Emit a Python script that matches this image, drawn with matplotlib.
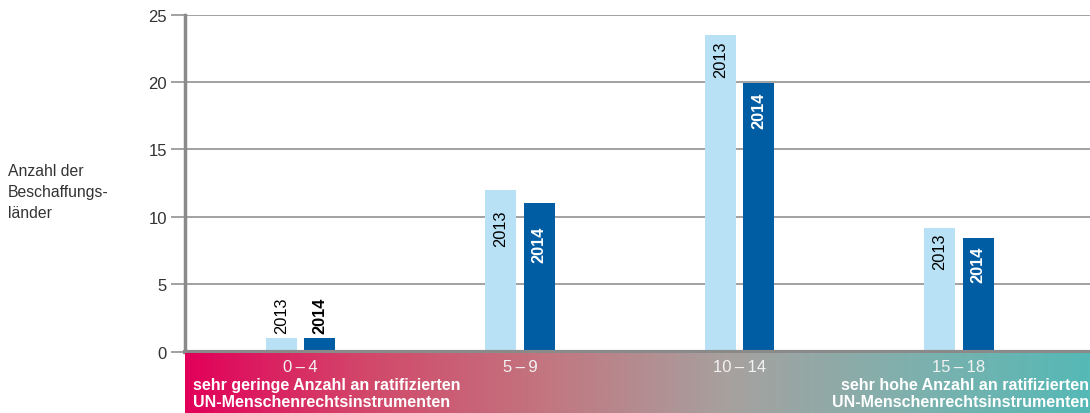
import numpy as np
import matplotlib
matplotlib.use('Agg')
import matplotlib.pyplot as plt
from matplotlib.colors import LinearSegmentedColormap

plt.rcParams['font.family'] = ['Liberation Sans', 'DejaVu Sans']

categories = ['0\u2009\u2013\u20094', '5\u2009\u2013\u20099', '10\u2009\u2013\u200914', '15\u2009\u2013\u200918']
values_2013 = [1, 12, 23.5, 9.2]
values_2014 = [1, 11, 19.9, 8.4]
series_labels = ['2013', '2014']
yticks = [0, 5, 10, 15, 20, 25]
ylabel = 'Anzahl der\nBeschaffungs-\nländer'
low_note = 'sehr geringe Anzahl an ratifizierten\nUN-Menschenrechtsinstrumenten'
high_note = 'sehr hohe Anzahl an ratifizierten\nUN-Menschenrechtsinstrumenten'

light = '#b8e1f5'
dark = '#005ca3'
grid_c = '#9a9a9a'

W, H = 1090, 414
fig = plt.figure(figsize=(W / 100, H / 100), dpi=100)
ax = fig.add_axes([185 / W, (H - 352.7) / H, 905 / W, 337.2 / H])

x = np.arange(len(categories))
bw = 0.141
off = 0.0875
ax.bar(x - off, values_2013, bw, color=light, zorder=3)
ax.bar(x + off, values_2014, bw, color=dark, zorder=3)

ax.set_xlim(-0.526, 3.597)
ax.set_ylim(0, 25)
ax.set_yticks(yticks)
ax.set_xticks([])
ax.tick_params(axis='y', length=10, width=1.3, color=grid_c, labelsize=12,
               labelcolor='#333333', pad=3)
ax.grid(axis='y', color=grid_c, linewidth=1.3, zorder=0)
for s in ['top', 'right']:
    ax.spines[s].set_visible(False)
ax.spines['left'].set_color('#8a8a8a')
ax.spines['left'].set_linewidth(2.5)
ax.spines['bottom'].set_color('#8a8a8a')
ax.spines['bottom'].set_linewidth(3)
ax.spines['bottom'].set_zorder(5)

# year labels: first group above the bars, others inside at the top
pads = [5, 20, 6, 5]
fs_year = 11.8
for i in range(len(categories)):
    if i == 0:
        ax.annotate(series_labels[0], (x[i] - off, values_2013[i]), xytext=(0, 4),
                    textcoords='offset points', rotation=90, ha='center', va='bottom',
                    fontsize=fs_year, color='black')
        ax.annotate(series_labels[1], (x[i] + off, values_2014[i]), xytext=(0, 4),
                    textcoords='offset points', rotation=90, ha='center', va='bottom',
                    fontsize=fs_year, color='black', fontweight='bold')
    else:
        ax.annotate(series_labels[0], (x[i] - off, values_2013[i]), xytext=(0, -pads[i]),
                    textcoords='offset pixels', rotation=90, ha='center', va='top',
                    fontsize=fs_year, color='black', zorder=4)
        ax.annotate(series_labels[1], (x[i] + off, values_2014[i]), xytext=(0, -pads[i] - 2),
                    textcoords='offset pixels', rotation=90, ha='center', va='top',
                    fontsize=fs_year, color='white', fontweight='bold', zorder=4)

fig.text(8 / W, 1 - 192 / H, ylabel, ha='left', va='center', fontsize=11.3,
         color='#333333', linespacing=1.5)

# gradient band below the axis
bax = fig.add_axes([185 / W, 0, 905 / W, (H - 353.5) / H])
cmap = LinearSegmentedColormap.from_list(
    'band', ['#e2005a', '#d2486a', '#c27680', '#a7a19f', '#7fb0ad', '#55b9b6'])
grad = np.linspace(0, 1, 512).reshape(1, -1)
bax.imshow(grad, aspect='auto', cmap=cmap, extent=[-0.526, 3.597, 0, 1])
bax.set_xlim(-0.526, 3.597)
bax.set_ylim(0, 1)
bax.axis('off')
for i, c in enumerate(categories):
    bax.text(x[i], 0.77, c, ha='center', va='center', fontsize=12,
             color='#f2f2f2')
bax.text(-0.49, 0.33, low_note, ha='left', va='center', fontsize=11.5,
         color='white', fontweight='bold', linespacing=1.15)
bax.text(3.592, 0.33, high_note, ha='right', va='center', fontsize=11.5,
         color='white', fontweight='bold', linespacing=1.15)

fig.savefig('out.png', dpi=100)
